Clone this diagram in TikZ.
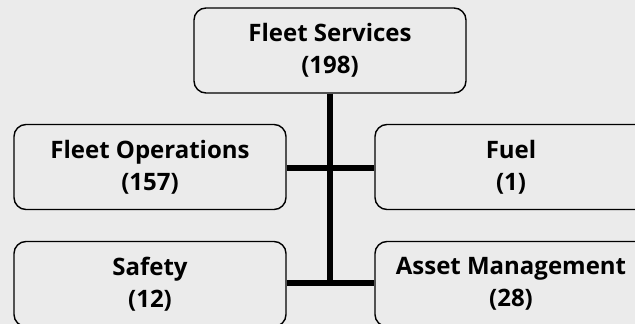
\documentclass[tikz,border=0pt]{standalone}
\usepackage{fontspec}
\setmainfont{Open Sans}
\definecolor{bg}{HTML}{EBEBEB}
\begin{document}
\begin{tikzpicture}[x=1pt,y=-1pt,
  box/.style={draw=black, line width=1.4pt, rounded corners=12pt, fill=bg,
    minimum width=272pt, minimum height=85pt, align=center, inner sep=0pt,
    font=\fontsize{24}{32}\selectfont\bfseries},
  conn/.style={line width=5.5pt}]
\useasboundingbox[fill=bg] (0,0) rectangle (635,324);
\clip (0,0) rectangle (635,324);
\node[box] (top) at (330,50.5) {Fleet Services\\(198)};
\node[box] (ops) at (150,167) {Fleet Operations\\(157)};
\node[box] (fuel) at (511,167) {Fuel\\(1)};
\node[box] (saf) at (150,284) {Safety\\(12)};
\node[box] (asset) at (511,284) {Asset Management\\(28)};
\coordinate (j1) at (330,168);
\coordinate (j2) at (330,283);
\draw[conn] (top.south) -- (j2);
\draw[conn] (ops.east |- j1) -- (fuel.west |- j1);
\draw[conn] (saf.east |- j2) -- (asset.west |- j2);
\end{tikzpicture}
\end{document}
